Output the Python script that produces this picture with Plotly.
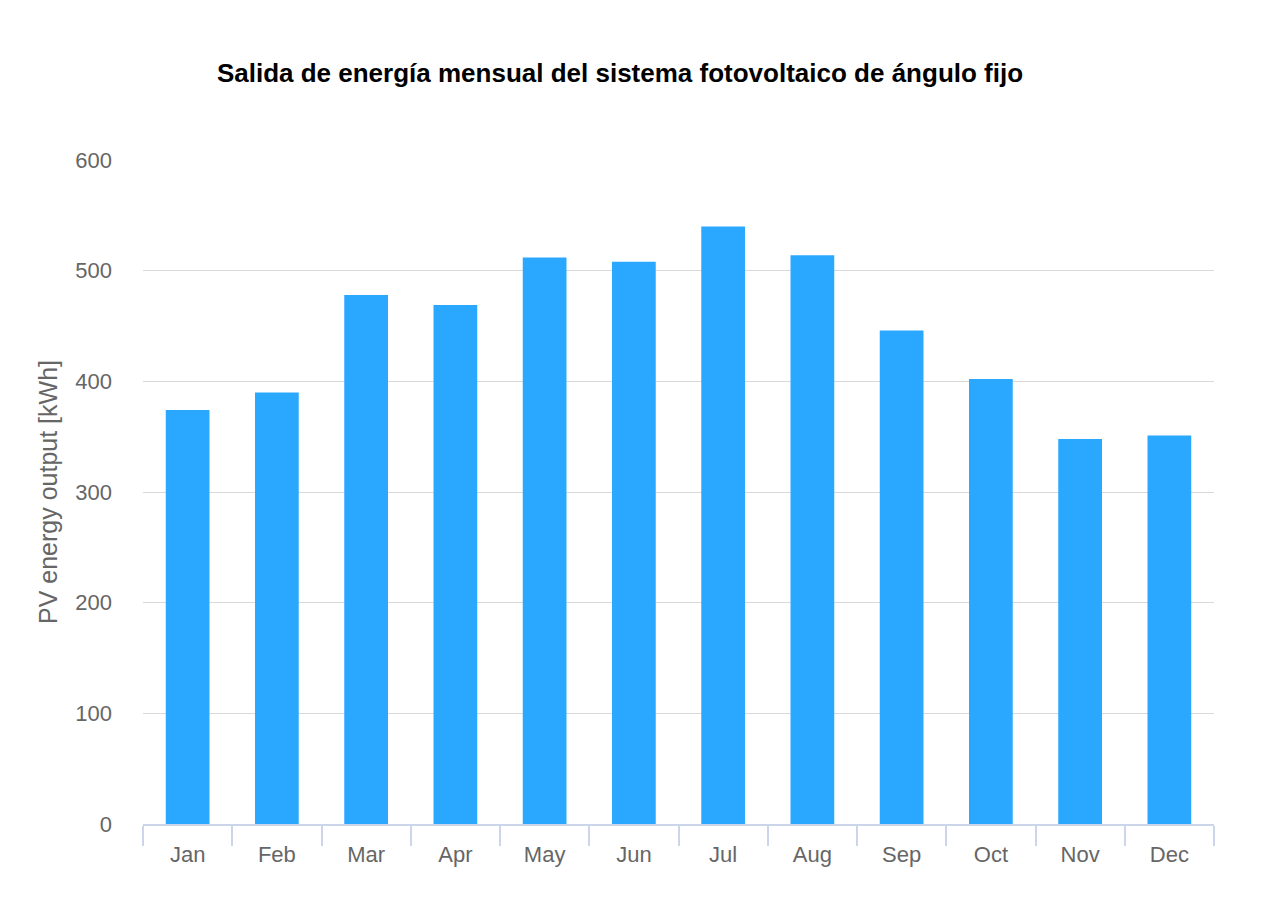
import plotly.graph_objects as go

months = ["Jan", "Feb", "Mar", "Apr", "May", "Jun", "Jul", "Aug", "Sep", "Oct", "Nov", "Dec"]
pv_output = [374, 390, 478, 469, 512, 508, 540, 514, 446, 402, 348, 351]
y_ticks = [0, 100, 200, 300, 400, 500, 600]

fig = go.Figure()
fig.add_trace(go.Bar(
    x=months, y=pv_output,
    marker=dict(color="#2aa8ff", line=dict(width=0)),
    hoverinfo="x+y",
))

font_family = "Liberation Sans, Arial, Helvetica, sans-serif"

fig.update_layout(
    width=1286, height=916,
    paper_bgcolor="white", plot_bgcolor="white",
    margin=dict(l=135, r=80, t=152, b=100),
    bargap=0.51,
    showlegend=False,
    font=dict(family=font_family, color="#666666", size=22),
    title=dict(
        text="<b>Salida de energía mensual del sistema fotovoltaico de ángulo fijo</b>",
        x=612 / 1286, xanchor="center", xref="container",
        y=1 - 65 / 916, yanchor="middle", yref="container",
        font=dict(family=font_family, size=26, color="#000000"),
    ),
)

fig.update_xaxes(
    showline=True, linecolor="#ccd6eb", linewidth=1.5,
    ticks="outside", tickson="boundaries", ticklen=20, tickcolor="#ccd6eb", tickwidth=1.5,
    tickfont=dict(size=22, color="#666666"),
    ticklabelstandoff=10,
    showgrid=False,
)
fig.update_yaxes(
    range=[0, 600], tickvals=y_ticks,
    showgrid=True, gridcolor="#d9d9d9", gridwidth=1,
    zeroline=False, showline=False,
    tickfont=dict(size=22, color="#666666"),
    ticklabelstandoff=30,
    title=dict(text="PV energy output [kWh]", font=dict(size=25, color="#666666"), standoff=10),
)

fig.write_html("out.html")
